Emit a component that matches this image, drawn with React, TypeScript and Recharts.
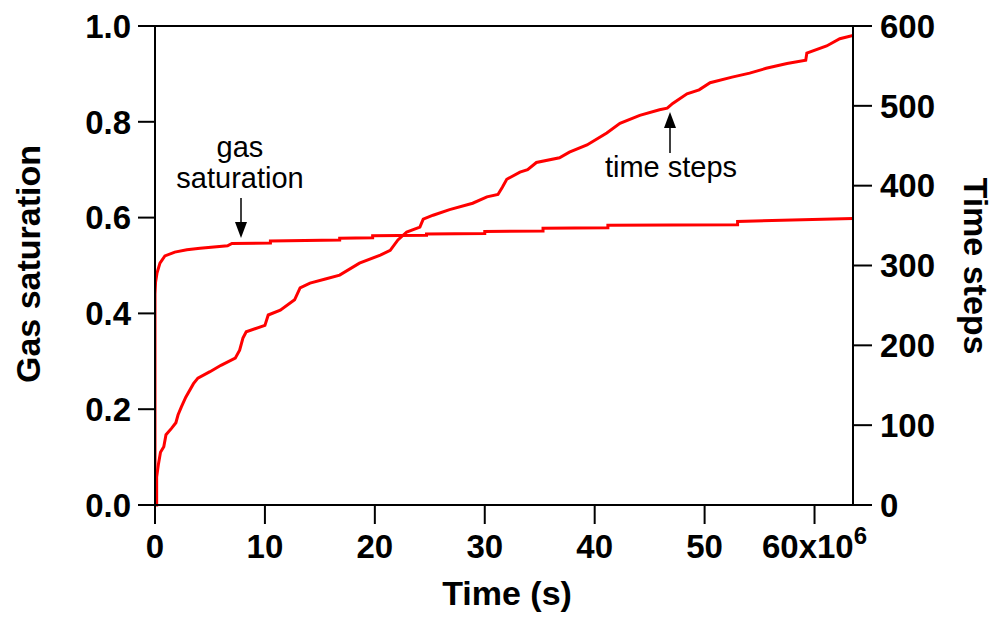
import React from 'react'
import { LineChart, Line, XAxis, YAxis, ReferenceLine } from 'recharts'

// time in units of 10^6 s; repeated times mark the vertical jumps of the staircase
const gasTime = [
  0, 0, 0.05, 0.18, 0.45, 0.9, 1.8, 2.9, 4.1, 6.6,
  7.0, 10.5, 10.5, 16.8, 16.8, 19.8, 19.8, 24.7, 24.7, 30.0,
  30.0, 35.3, 35.3, 41.2, 41.2, 53.0, 53.0, 63.5,
]
const gasSat = [
  0, 0.44, 0.465, 0.484, 0.505, 0.52, 0.528, 0.533, 0.536, 0.541,
  0.546, 0.547, 0.551, 0.553, 0.557, 0.558, 0.562, 0.563, 0.566, 0.567,
  0.571, 0.572, 0.578, 0.579, 0.584, 0.585, 0.592, 0.598,
]

const stepTime = [
  0, 0.15, 0.15, 0.3, 0.5, 0.8, 1.0, 1.5, 1.9, 2.1,
  2.4, 2.8, 3.5, 3.9, 5.0, 6.0, 7.3, 7.7, 8.0, 8.3,
  10.0, 10.3, 11.4, 12.7, 13.2, 14.1, 15.5, 16.8, 18.6, 20.5,
  21.4, 22.1, 22.9, 24.1, 24.4, 25.3, 26.8, 28.9, 30.2, 31.2,
  31.6, 32.0, 33.2, 33.9, 34.7, 36.8, 37.7, 39.3, 41.1, 42.3,
  44.1, 45.9, 46.6, 47.1, 48.4, 49.5, 50.5, 52.5, 54.1, 55.6,
  57.5, 59.2, 59.3, 61.1, 62.3, 63.5,
]
const stepCount = [
  0, 0, 35, 50, 66, 73, 88, 96, 103, 113,
  123, 135, 152, 159, 167, 175, 184, 194, 209, 217,
  225, 238, 244, 257, 272, 278, 283, 288, 303, 313,
  319, 332, 342, 348, 358, 363, 370, 378, 386, 389,
  398, 408, 417, 420, 429, 435, 442, 451, 466, 478,
  488, 495, 497, 503, 515, 520, 529, 536, 541, 547,
  553, 557, 566, 575, 584, 588,
]

const xTicks = [0, 10, 20, 30, 40, 50, 60]
const satTicks = [0, 0.2, 0.4, 0.6, 0.8, 1.0]
const stepTicks = [0, 100, 200, 300, 400, 500, 600]

const gasData = gasTime.map((t, i) => ({ t, v: gasSat[i] }))
const stepData = stepTime.map((t, i) => ({ t, v: stepCount[i] }))

const FONT = '"Liberation Sans", Arial, Helvetica, sans-serif'
const tickFont = { fontSize: 33, fontWeight: 'bold', fill: '#000', fontFamily: FONT }
const axisLine = { stroke: '#000', strokeWidth: 2 }

const XTick = (props: any) => {
  const { x, y, payload } = props
  const v = payload.value
  return (
    <text x={x} y={y} dy="0.71em" textAnchor="middle" {...tickFont}>
      {v === 60 ? (
        <>
          60x10<tspan dy={-14} fontSize={24}>6</tspan>
        </>
      ) : (
        v
      )}
    </text>
  )
}

export default function App() {
  return (
    <div style={{ position: 'absolute', left: 0, top: 0, width: 997, height: 617, background: '#fff', fontFamily: FONT }}>
      <LineChart width={997} height={617} margin={{ top: 26, right: 44, bottom: 52, left: 55 }}>
        <XAxis
          dataKey="t"
          type="number"
          domain={[0, 63.5]}
          ticks={xTicks}
          allowDataOverflow
          height={60}
          tickSize={19}
          tickMargin={11}
          axisLine={axisLine}
          tickLine={axisLine}
          tick={<XTick />}
        />
        <YAxis
          yAxisId="left"
          domain={[0, 1]}
          ticks={satTicks}
          width={100}
          tickSize={17}
          tickMargin={7}
          axisLine={axisLine}
          tickLine={axisLine}
          tick={tickFont}
          tickFormatter={(v: number) => v.toFixed(1)}
        />
        <YAxis
          yAxisId="right"
          orientation="right"
          domain={[0, 600]}
          ticks={stepTicks}
          width={100}
          tickSize={19}
          tickMargin={8}
          axisLine={axisLine}
          tickLine={axisLine}
          tick={tickFont}
        />
        <ReferenceLine yAxisId="left" y={1} stroke="#000" strokeWidth={2} />
        <Line
          yAxisId="left"
          data={gasData}
          dataKey="v"
          type="linear"
          stroke="#ff0000"
          strokeWidth={3}
          dot={false}
          isAnimationActive={false}
        />
        <Line
          yAxisId="right"
          data={stepData}
          dataKey="v"
          type="linear"
          stroke="#ff0000"
          strokeWidth={3}
          dot={false}
          isAnimationActive={false}
        />
      </LineChart>
      <svg width={997} height={617} style={{ position: 'absolute', left: 0, top: 0, pointerEvents: 'none' }}>
        <g fontFamily={FONT} fill="#000">
          <text x={40} y={264} transform="rotate(-90 40 264)" textAnchor="middle" fontSize={34} fontWeight="bold">
            Gas saturation
          </text>
          <text x={964} y={266} transform="rotate(90 964 266)" textAnchor="middle" fontSize={34} fontWeight="bold">
            Time steps
          </text>
          <text x={507} y={605} textAnchor="middle" fontSize={34} fontWeight="bold">
            Time (s)
          </text>
          <text x={240} y={157} textAnchor="middle" fontSize={29}>gas</text>
          <text x={240} y={188} textAnchor="middle" fontSize={29}>saturation</text>
          <text x={671} y={177} textAnchor="middle" fontSize={29}>time steps</text>
        </g>
        <line x1={241} y1={198} x2={241} y2={224} stroke="#000" strokeWidth={1.5} />
        <polygon points="235,222 247,222 241,238" fill="#000" />
        <line x1={670} y1={153} x2={670} y2={126} stroke="#000" strokeWidth={1.5} />
        <polygon points="664,128 676,128 670,112" fill="#000" />
      </svg>
    </div>
  )
}
